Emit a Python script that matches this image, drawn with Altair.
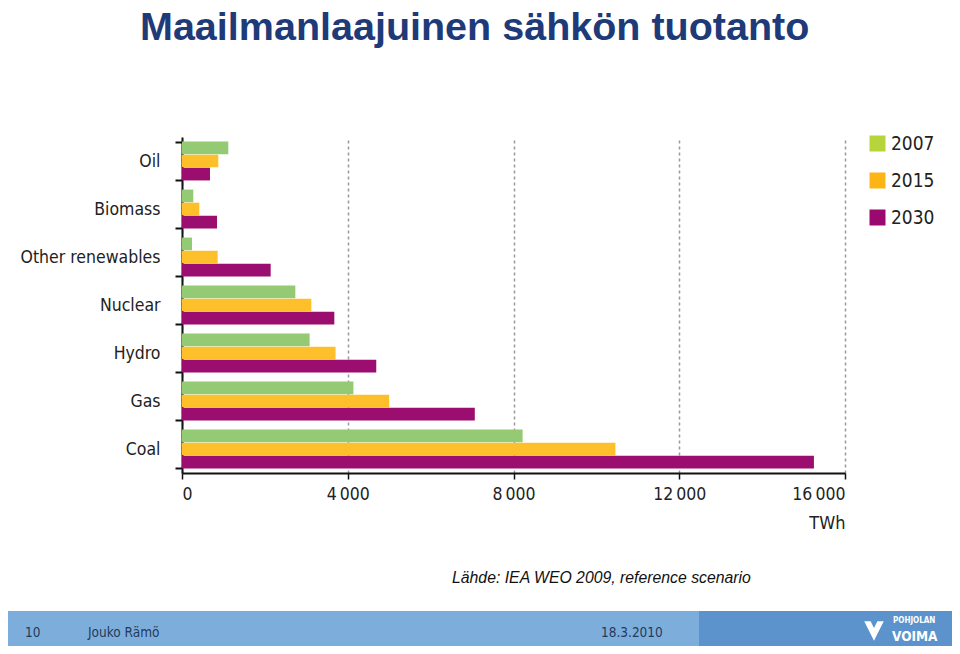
import altair as alt
import pandas as pd

categories = ["Oil", "Biomass", "Other renewables", "Nuclear", "Hydro", "Gas", "Coal"]
years = ["2007", "2015", "2030"]
v2007 = [1117, 273, 241, 2735, 3080, 4137, 8220]
v2015 = [876, 418, 861, 3121, 3706, 5000, 10460]
v2030 = [676, 845, 2140, 3676, 4688, 7066, 15250]
x_ticks = [0, 4000, 8000, 12000, 16000]

bar_colors = ["#94CA73", "#FEC02A", "#9B0E70"]
legend_colors = ["#B7D43C", "#FDB515", "#9A0A6E"]

rows = []
for i, c in enumerate(categories):
    for y, vals in zip(years, [v2007, v2015, v2030]):
        rows.append({"source": c, "year": y, "twh": vals[i]})
df = pd.DataFrame(rows)

FONT = "DejaVu Sans Condensed, sans-serif"
W, H = 663, 336

x_enc = alt.X("twh:Q",
              scale=alt.Scale(domain=[0, 16000], nice=False),
              axis=alt.Axis(values=x_ticks,
                            labelExpr="replace(format(datum.value, ','), ',', '\u2009')",
                            title="TWh", titleAnchor="end", titleAlign="right",
                            titleFont=FONT, titleFontSize=18, titleFontWeight="normal",
                            titleColor="#222", titlePadding=12,
                            labelFont=FONT, labelFontSize=17.5, labelColor="#222",
                            labelPadding=6, tickSize=6, tickColor="#111", tickWidth=1.5,
                            domainColor="#111", domainWidth=2,
                            grid=True, gridColor="#999", gridDash=[3, 3], gridWidth=1.5))
y_enc = alt.Y("source:N", sort=categories,
              scale=alt.Scale(paddingInner=0.19, paddingOuter=0.095),
              axis=alt.Axis(title=None, labelFont=FONT, labelFontSize=17.5, labelColor="#222",
                            tickBand="extent", tickSize=7, tickColor="#111", tickWidth=2,
                            labelPadding=15, domainColor="#111", domainWidth=2, grid=False))

bars = alt.Chart(df).mark_bar().encode(
    x=x_enc,
    y=y_enc,
    yOffset=alt.YOffset("year:N", sort=years, scale=alt.Scale(paddingInner=0.03)),
    color=alt.Color("year:N", sort=years,
                    scale=alt.Scale(domain=years, range=bar_colors), legend=None),
)

legend_layer = alt.Chart(df).mark_square(opacity=0).encode(
    x="twh:Q",
    y=alt.Y("source:N", sort=categories),
    color=alt.Color("year:N", sort=years,
                    scale=alt.Scale(domain=years, range=legend_colors),
                    legend=alt.Legend(title=None, orient="none", legendX=686, legendY=-3,
                                      symbolType="square", symbolSize=256, symbolOpacity=1,
                                      symbolStrokeWidth=0, labelFont=FONT, labelFontSize=19,
                                      labelColor="#222", labelOffset=4, rowPadding=17)),
)

one = alt.Data(values=[{"k": 1}])

def txt(s, x, y, **kw):
    return alt.Chart(one).mark_text(text=s, **kw).encode(x=alt.value(x), y=alt.value(y))

def box(x1, x2, y1, y2, color):
    return alt.Chart(one).mark_rect(color=color).encode(
        x=alt.value(x1), x2=alt.value(x2), y=alt.value(y1), y2=alt.value(y2))

title = txt("Maailmanlaajuinen sähkön tuotanto", -42, -97, font="Liberation Sans",
            fontSize=39.5, fontWeight="bold", color="#1E3A78", align="left", baseline="alphabetic")
source = txt("Lähde: IEA WEO 2009, reference scenario", 270, 446, font="Liberation Sans",
             fontSize=15.8, fontStyle="italic", color="#111", align="left", baseline="alphabetic")

foot_light = box(-182, 800, 474, 515, "#7DAEDB")
foot_dark = box(517, 800, 474, 515, "#5C93CC")
f1 = txt("10", -157, 496, font=FONT, fontSize=13.5, color="#233A5A", align="left", baseline="middle")
f2 = txt("Jouko Rämö", -94, 496, font=FONT, fontSize=13.5, color="#233A5A", align="left", baseline="middle")
f3 = txt("18.3.2010", 419, 496, font=FONT, fontSize=13.5, color="#233A5A", align="left", baseline="middle")
logo1 = txt("POHJOLAN", 711, 484, font=FONT, fontSize=8, fontWeight="bold", color="white",
            align="left", baseline="middle")
logo2 = txt("VOIMA", 710, 500, font=FONT, fontSize=13.5, fontWeight="bold", color="white",
            align="left", baseline="middle")
icon = alt.Chart(one).mark_point(
    shape="M-1,-1 L-0.35,-1 L0,-0.3 L0.35,-1 L1,-1 L0,1 Z",
    filled=True, color="white", opacity=1, size=380).encode(x=alt.value(692), y=alt.value(494))

chart = alt.layer(
    bars, legend_layer, title, source, foot_light, foot_dark, f1, f2, f3, logo1, logo2, icon
).resolve_scale(color="independent").properties(
    width=W, height=H,
    autosize=alt.AutoSizeParams(type="none"),
    padding={"left": 174, "top": 129, "right": 107, "bottom": 173},
    background="white",
).configure_view(stroke=None)

chart.save("out.html", embed_options={"renderer": "svg", "actions": False})
